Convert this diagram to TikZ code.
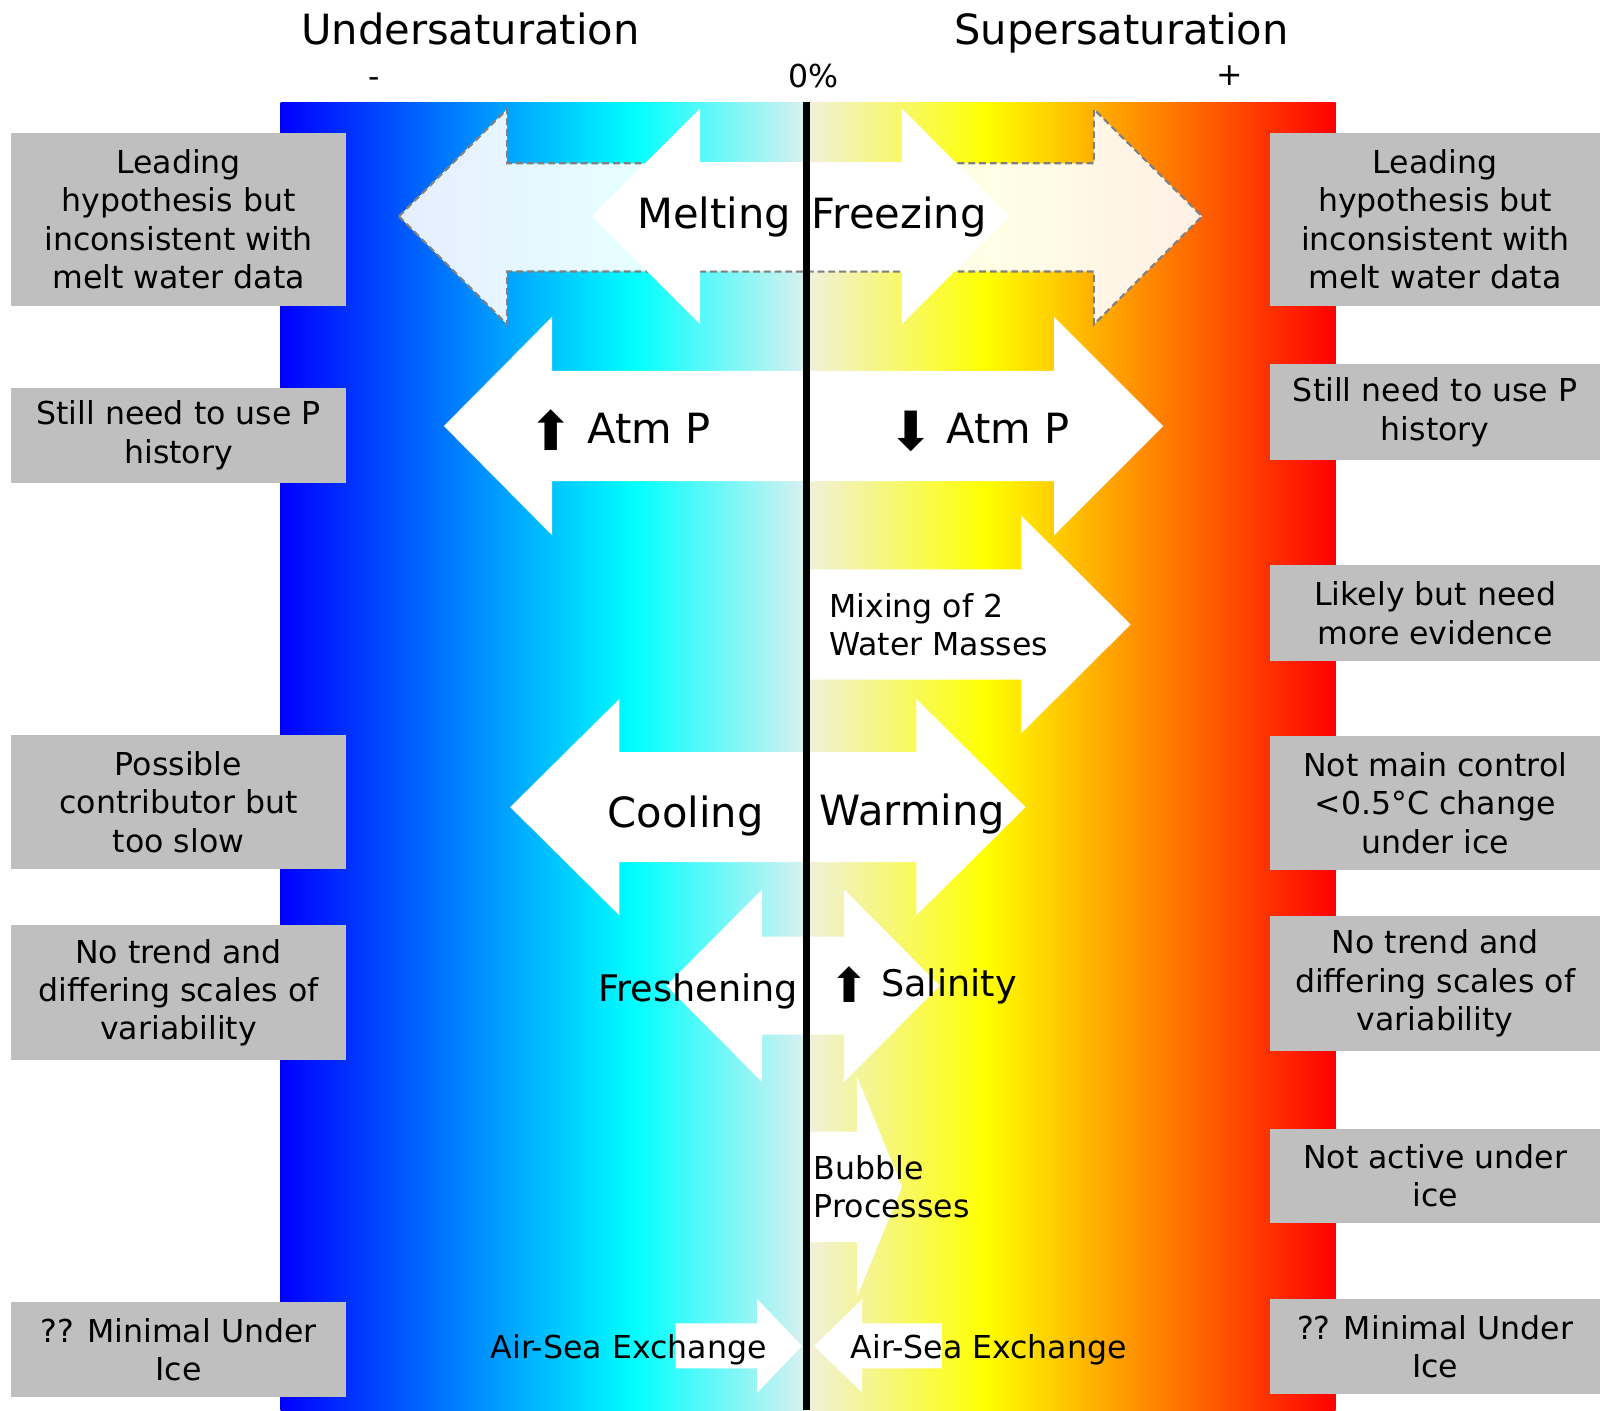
\documentclass[tikz,border=0pt]{standalone}
\usepackage{graphicx}
\usepackage{fontspec}
\setmainfont{DejaVu Sans}
\definecolor{boxgray}{RGB}{191,191,191}
\definecolor{nearcyan}{RGB}{218,240,240}
\definecolor{nearcream}{RGB}{240,240,222}
\definecolor{dashgray}{RGB}{128,128,128}
\tikzset{
  notebox/.style={fill=boxgray, align=center, inner sep=0pt, font=\fontsize{8.8}{10.7}\selectfont},
  leftbox/.style={notebox, minimum width=3.28cm},
  rightbox/.style={notebox, minimum width=3.23cm},
  flowarrow/.style={fill=white},
  ghostarrow/.style={fill=white, fill opacity=0.9, draw=dashgray, line width=0.6pt, dash pattern=on 1.9pt off 1.1pt},
  bigtxt/.style={inner sep=0pt, font=\fontsize{11.6}{14}\selectfont},
  midtxt/.style={inner sep=0pt, font=\fontsize{10.2}{12}\selectfont},
  smalltxt/.style={inner sep=0pt, font=\fontsize{8.8}{10.7}\selectfont},
}
% block arrow: style, tail x, head back x, tip x, mid y, shaft half, head half
\newcommand{\blockarrow}[7]{%
  \path[#1] ({#2},{#5-#6}) -- ({#3},{#5-#6}) -- ({#3},{#5-#7}) -- ({#4},{#5})
    -- ({#3},{#5+#7}) -- ({#3},{#5+#6}) -- ({#2},{#5+#6}) -- cycle;}
\newcommand{\heavyarrow}[1]{\raisebox{-0.3ex}{\scalebox{1.3}{#1}}}

\begin{document}
\begin{tikzpicture}[x=0.01cm, y=-0.01cm]
\useasboundingbox (0,0) rectangle (1568,1382);

% colour band
\shade[left color=blue, right color=cyan] (275,100) rectangle (622,1382);
\shade[left color=cyan, right color=nearcyan] (621.5,100) rectangle (790,1382);
\shade[left color=nearcream, right color=yellow] (790,100) rectangle (966.5,1382);
\shade[left color=yellow, right color=red] (966,100) rectangle (1309,1382);

% melting / freezing
\path[ghostarrow] (391,212) -- (497,107) -- (497,160) -- (1072,160) -- (1072,107)
  -- (1178,212) -- (1072,318) -- (1072,266) -- (497,266) -- (497,318) -- cycle;
\blockarrow{flowarrow}{790}{686}{580}{212}{53}{105.5}
\blockarrow{flowarrow}{790}{884}{989}{212}{53}{105.5}
% atm P
\blockarrow{flowarrow}{790}{541}{435}{417.5}{54}{107}
\blockarrow{flowarrow}{790}{1033}{1140}{417.5}{54}{107}
% mixing
\blockarrow{flowarrow}{790}{1001}{1108}{612}{54}{106.5}
% cooling / warming
\blockarrow{flowarrow}{790}{607}{500}{791}{54}{106}
\blockarrow{flowarrow}{790}{898}{1005}{791}{54}{106}
% freshening / salinity
\blockarrow{flowarrow}{790}{747}{653}{966}{48}{94.5}
\blockarrow{flowarrow}{790}{827}{921}{966}{48}{94.5}
% bubbles
\blockarrow{flowarrow}{790}{840}{884}{1163}{54}{107.5}
% air-sea
\blockarrow{flowarrow}{662}{742}{786}{1319}{22}{46}
\blockarrow{flowarrow}{923}{845}{798}{1319}{22}{46}

% 0% line
\coordinate (axistop) at (790,100);
\coordinate (axisbot) at (790,1382);
\draw[line width=2pt] (axistop) -- (axisbot);

% scale labels
\node[bigtxt, anchor=base] (undersat) at (461,44) {Undersaturation};
\node[bigtxt, anchor=base] (supersat) at (1099,44) {Supersaturation};
\node[smalltxt, anchor=base] (minus) at (367,86) {-};
\node[smalltxt, anchor=base] (zero) at (797,86) {0\%};
\node[smalltxt, anchor=base] (plus) at (1205,84) {+};

% process labels
\node[bigtxt, anchor=base east] (melt) at (776,224) {Melting};
\node[bigtxt, anchor=base west] (freeze) at (795,224) {Freezing};
\node[bigtxt, anchor=base east] (atmup) at (697,435) {\heavyarrow{⬆} Atm P};
\node[bigtxt, anchor=base east] (atmdown) at (1049,435) {\heavyarrow{⬇} Atm P};
\node[smalltxt, align=left, anchor=west] (mixing) at (812,612) {Mixing of 2\\Water Masses};
\node[bigtxt, anchor=base] (cool) at (672,811) {Cooling};
\node[bigtxt, anchor=base] (warm) at (894,809) {Warming};
\node[midtxt, anchor=base] (fresh) at (684,981) {Freshening};
\node[midtxt, anchor=base east] (salt) at (997,977) {\heavyarrow{⬆} Salinity};
\node[smalltxt, align=left, anchor=west] (bubble) at (797,1163) {Bubble\\Processes};
\node[smalltxt, anchor=base] (airsea-l) at (616,1331) {Air-Sea Exchange};
\node[smalltxt, anchor=base] (airsea-r) at (969,1331) {Air-Sea Exchange};

% notes, left
\node[leftbox, minimum height=1.70cm] (l-melt) at (175,215) {Leading\\hypothesis but\\inconsistent with\\melt water data};
\node[leftbox, minimum height=0.93cm] (l-atm) at (175,426.5) {Still need to use P\\history};
\node[leftbox, minimum height=1.32cm] (l-cool) at (175,786) {Possible\\contributor but\\too slow};
\node[leftbox, minimum height=1.32cm] (l-fresh) at (175,973) {No trend and\\differing scales of\\variability};
\node[leftbox, minimum height=0.93cm] (l-air) at (175,1322.5) {?? Minimal Under\\Ice};

% notes, right
\node[rightbox, minimum height=1.70cm] (r-freeze) at (1406.5,215) {Leading\\hypothesis but\\inconsistent with\\melt water data};
\node[rightbox, minimum height=0.94cm] (r-atm) at (1406.5,404) {Still need to use P\\history};
\node[rightbox, minimum height=0.94cm] (r-mix) at (1406.5,601) {Likely but need\\more evidence};
\node[rightbox, minimum height=1.32cm] (r-warm) at (1406.5,787) {Not main control\\<0.5°C change\\under ice};
\node[rightbox, minimum height=1.32cm] (r-salt) at (1406.5,964) {No trend and\\differing scales of\\variability};
\node[rightbox, minimum height=0.93cm] (r-bubble) at (1406.5,1152.5) {Not active under\\ice};
\node[rightbox, minimum height=0.93cm] (r-air) at (1406.5,1319.5) {?? Minimal Under\\Ice};
\end{tikzpicture}
\end{document}
